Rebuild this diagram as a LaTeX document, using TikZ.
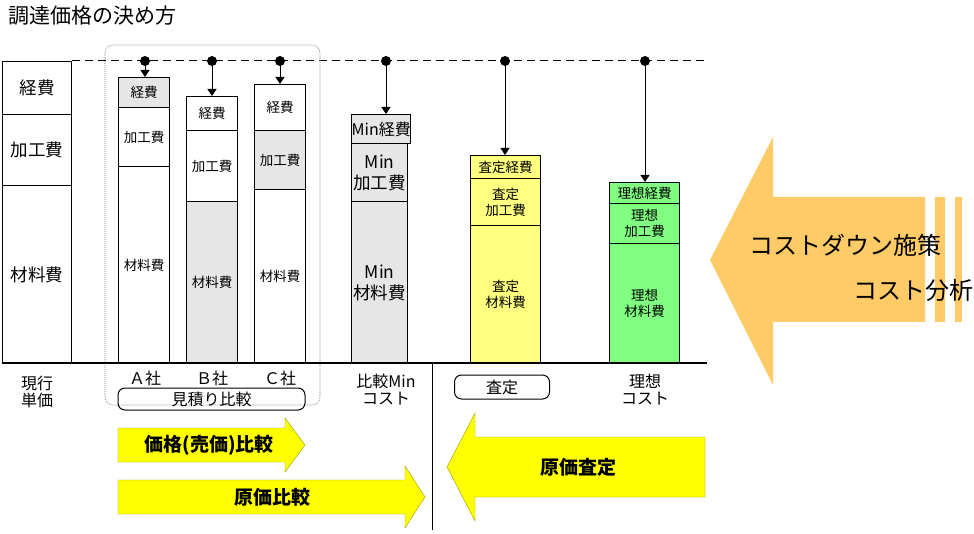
\documentclass[tikz,border=0pt]{standalone}
\usepackage{fontspec}
\setmainfont{Noto Sans CJK JP}
\usetikzlibrary{positioning, shapes, arrows.meta}
\definecolor{barGray}{HTML}{E6E6E6}
\definecolor{barYellow}{HTML}{FFFF80}
\definecolor{barGreen}{HTML}{80FF80}
\definecolor{arrYellow}{HTML}{FFFF00}
\definecolor{arrOrange}{HTML}{FFCB66}

\begin{document}
\begin{tikzpicture}[
    x=1pt, y=-1pt,
    seg/.style={rectangle, draw, line width=1.3pt, anchor=north west, inner sep=0pt, align=center, font=\fontsize{13.5}{16}\selectfont},
    bigseg/.style={seg, font=\fontsize{17.5}{21}\selectfont},
    lbl/.style={align=center, font=\fontsize{16}{17}\selectfont, inner sep=0pt},
    tag/.style={rectangle, rounded corners=7pt, draw, line width=1pt, font=\fontsize{16}{18}\selectfont, inner sep=0pt},
    drop/.style={-{Triangle[length=7pt, width=9pt]}, line width=1pt},
    >=Stealth
]
\useasboundingbox (0,0) rectangle (974,534);

\node[anchor=west, font=\fontsize{21}{23}\selectfont] (title) at (5,16) {調達価格の決め方};

% big orange arrow
\fill[arrOrange] (710,260) -- (773,137) -- (773,197) -- (925,197) -- (925,322) -- (773,322) -- (773,385) -- cycle;
\fill[arrOrange] (935,197) rectangle (945,322);
\fill[arrOrange] (955,197) rectangle (962,322);
\node[anchor=west, font=\fontsize{24}{26}\selectfont] (cd) at (746,245) {コストダウン施策};
\node[anchor=west, font=\fontsize{24}{26}\selectfont] (ca) at (850,290) {コスト分析};

% reference lines
\draw[dashed, line width=1pt, dash pattern=on 8pt off 5pt] (72,61) -- (707,61);
\draw[gray, line width=0.6pt, dash pattern=on 1pt off 1pt, rounded corners=8pt] (105,45) rectangle (320,405);

% current price
\node[bigseg, minimum width=69pt, minimum height=53pt] (cur1) at (2,61) {経費};
\node[bigseg, minimum width=69pt, minimum height=71pt] (cur2) at (2,114) {加工費};
\node[bigseg, minimum width=69pt, minimum height=178pt] (cur3) at (2,185) {材料費};

% A
\node[seg, fill=barGray, minimum width=51pt, minimum height=30pt] (a1) at (118,77) {経費};
\node[seg, minimum width=51pt, minimum height=59pt] (a2) at (118,107) {加工費};
\node[seg, minimum width=51pt, minimum height=197pt] (a3) at (118,166) {材料費};
% B
\node[seg, minimum width=51pt, minimum height=34pt] (b1) at (186,96) {経費};
\node[seg, minimum width=51pt, minimum height=71pt] (b2) at (186,130) {加工費};
\node[seg, fill=barGray, minimum width=51pt, minimum height=162pt] (b3) at (186,201) {材料費};
% C
\node[seg, minimum width=51pt, minimum height=46pt] (c1) at (254,84) {経費};
\node[seg, fill=barGray, minimum width=51pt, minimum height=59pt] (c2) at (254,130) {加工費};
\node[seg, minimum width=51pt, minimum height=174pt] (c3) at (254,189) {材料費};
% Min
\node[bigseg, fill=barGray, minimum width=56pt, minimum height=29pt, font=\fontsize{16}{19}\selectfont] (m1) at (351,114) {Min経費};
\node[bigseg, fill=barGray, minimum width=56pt, minimum height=58pt] (m2) at (351,143) {Min\\加工費};
\node[bigseg, fill=barGray, minimum width=56pt, minimum height=162pt] (m3) at (351,201) {Min\\材料費};
% assessed
\node[seg, fill=barYellow, minimum width=70pt, minimum height=23pt] (s1) at (470,155) {査定経費};
\node[seg, fill=barYellow, minimum width=70pt, minimum height=47pt] (s2) at (470,178) {査定\\加工費};
\node[seg, fill=barYellow, minimum width=70pt, minimum height=138pt] (s3) at (470,225) {査定\\材料費};
% ideal
\node[seg, fill=barGreen, minimum width=70pt, minimum height=21pt] (i1) at (609,182) {理想経費};
\node[seg, fill=barGreen, minimum width=70pt, minimum height=40pt] (i2) at (609,203) {理想\\加工費};
\node[seg, fill=barGreen, minimum width=70pt, minimum height=120pt] (i3) at (609,243) {理想\\材料費};

% drops from the dashed line
\foreach \bar/\px in {a1/145, b1/212, c1/280, m1/386, s1/505, i1/645}{
    \coordinate (d\bar) at (\px,61);
    \fill (d\bar) circle (5pt);
    \draw[drop] (d\bar) -- (d\bar |- \bar.north);
}

% base line and divider
\coordinate (base0) at (2,363);
\coordinate (base1) at (707,363);
\draw[line width=2pt] (base0) -- (base1);
\coordinate (div0) at (432,363);
\coordinate (div1) at (432,530);
\draw[line width=0.6pt] (div0) -- (div1);

% labels
\node[lbl] (curL) at (37,392) {現行\\単価};
\node[lbl] (aL) at (145,378) {Ａ社};
\node[lbl] (bL) at (212,378) {Ｂ社};
\node[lbl] (cL) at (280,378) {Ｃ社};
\node[tag, minimum width=187pt, minimum height=22pt] (est) at (211.5,399) {見積り比較};
\node[lbl] (mL) at (386,390) {比較Min\\コスト};
\node[tag, minimum width=95pt, minimum height=24pt] (ass) at (502,387) {査定};
\node[lbl] (iL) at (645,390) {理想\\コスト};

% yellow arrows
\draw[arrYellow!60!black, line width=0.4pt, fill=arrYellow] (118,428) -- (285,428) -- (285,418) -- (305,445) -- (285,472) -- (285,462) -- (118,462) -- cycle;
\node[font=\bfseries\fontsize{19}{21}\selectfont] (sellA) at (209,445) {価格(売価)比較};
\draw[arrYellow!60!black, line width=0.4pt, fill=arrYellow] (118,480) -- (405,480) -- (405,466) -- (425,497) -- (405,528) -- (405,514) -- (118,514) -- cycle;
\node[font=\bfseries\fontsize{19}{21}\selectfont] (costA) at (272,497) {原価比較};
\draw[arrYellow!60!black, line width=0.4pt, fill=arrYellow] (705,437) -- (475,437) -- (475,413) -- (447,467) -- (475,521) -- (475,497) -- (705,497) -- cycle;
\node[font=\bfseries\fontsize{19}{21}\selectfont] (assA) at (578,467) {原価査定};

\end{tikzpicture}
\end{document}
